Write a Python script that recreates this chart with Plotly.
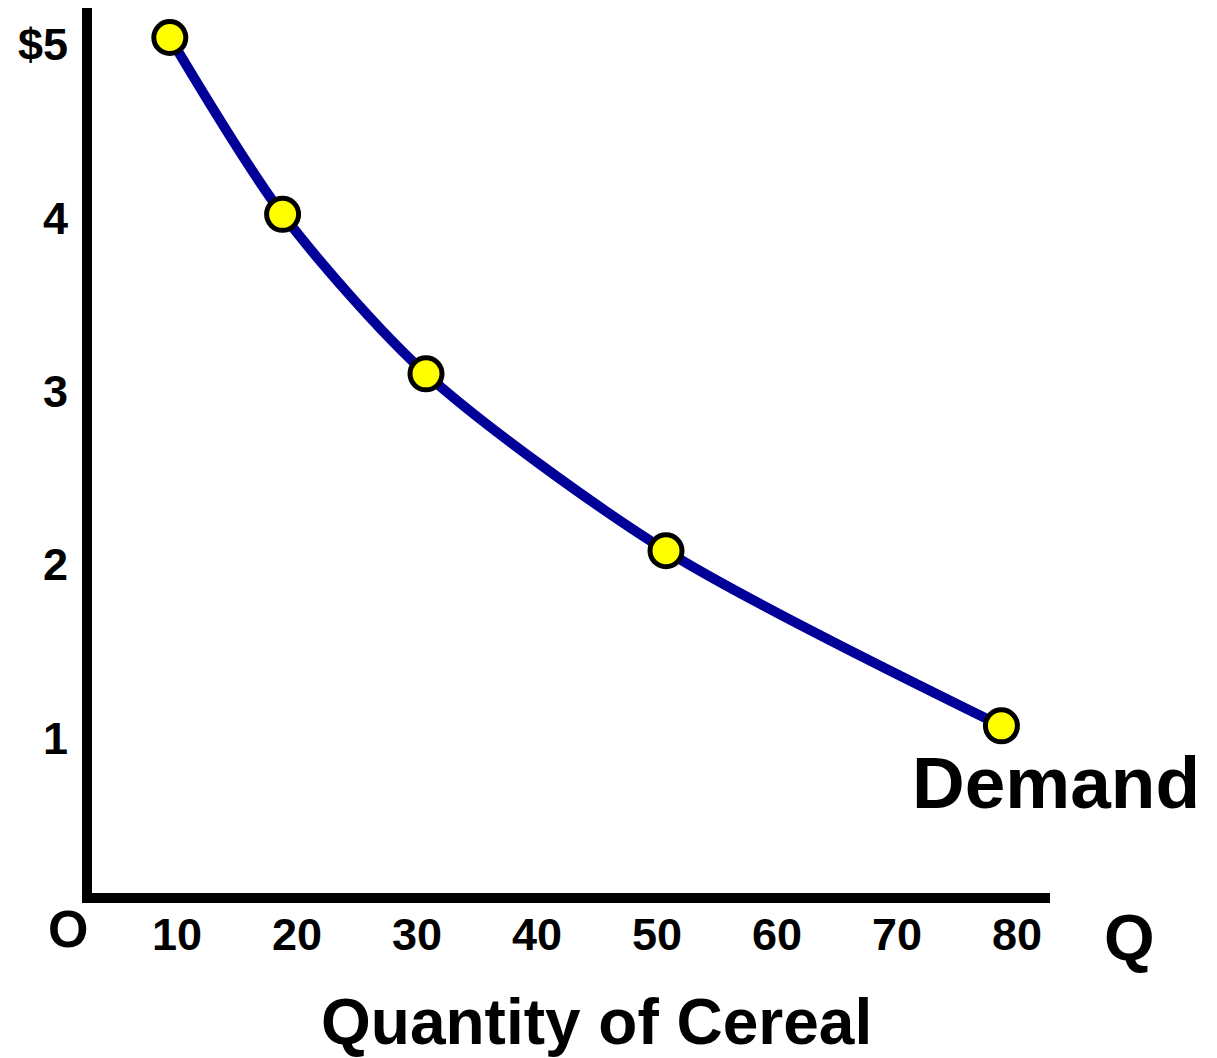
import plotly.graph_objects as go

# Data
quantity = [9.4, 18.8, 30.75, 50.75, 78.7]
price = [5.04, 4.02, 3.10, 2.08, 1.07]

x_tickvals = [10, 20, 30, 40, 50, 60, 70, 80]
x_ticktext = ["10", "20", "30", "40", "50", "60", "70", "80"]
y_tickvals = [1, 2, 3, 4, 5]
y_ticktext = ["1", "2", "3", "4", "$5"]

FONT = "Liberation Sans, Arial, sans-serif"

fig = go.Figure()
fig.add_trace(go.Scatter(
    x=quantity, y=price, mode="lines+markers",
    line=dict(color="#000099", width=10, shape="spline", smoothing=0.8),
    marker=dict(size=32, color="#FFFF00", line=dict(color="black", width=5)),
    cliponaxis=False, showlegend=False, hoverinfo="x+y",
))

fig.update_layout(
    width=1209, height=1050,
    margin=dict(l=84, r=167, t=0, b=165),
    paper_bgcolor="white", plot_bgcolor="white",
    font=dict(family=FONT, color="black"),
    xaxis=dict(
        range=[2.917, 82.75], showgrid=False, zeroline=False,
        showline=True, linecolor="black", linewidth=10,
        tickvals=x_tickvals, ticktext=x_ticktext, ticks="",
        ticklabelstandoff=-7,
        tickfont=dict(family=FONT, size=45, color="black", weight="bold"),
    ),
    yaxis=dict(
        range=[0.106, 5.21], showgrid=False, zeroline=False,
        showline=True, linecolor="black", linewidth=10,
        tickvals=y_tickvals, ticktext=y_ticktext, ticks="",
        ticklabelstandoff=5,
        tickfont=dict(family=FONT, size=45, color="black", weight="bold"),
    ),
    annotations=[
        dict(x=-0.025, y=-0.0407, xref="paper", yref="paper", text="<b>O</b>", showarrow=False,
             xanchor="center", yanchor="middle",
             font=dict(family=FONT, size=52, color="black")),
        dict(x=1.0835, y=-0.0508, xref="paper", yref="paper", text="<b>Q</b>", showarrow=False,
             xanchor="center", yanchor="middle",
             font=dict(family=FONT, size=65, color="black")),
        dict(x=1.0063, y=0.1243, xref="paper", yref="paper", text="<b>Demand</b>", showarrow=False,
             xanchor="center", yanchor="middle",
             font=dict(family=FONT, size=73, color="black")),
        dict(x=0.527, y=-0.1458, xref="paper", yref="paper", text="<b>Quantity of Cereal</b>",
             showarrow=False, xanchor="center", yanchor="middle",
             font=dict(family=FONT, size=64, color="black")),
    ],
)

fig.write_html("out.html")
